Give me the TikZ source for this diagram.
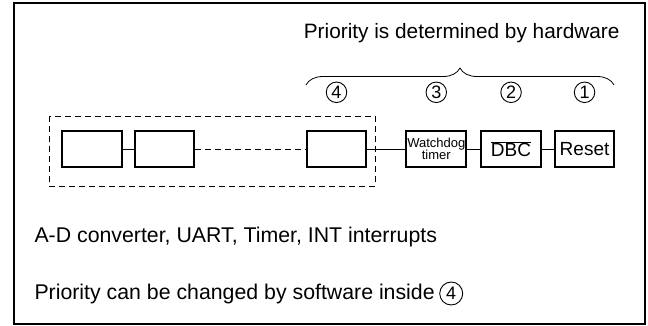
\documentclass[tikz,border=0pt]{standalone}
\usepackage{fontspec}
\setmainfont{Liberation Sans}
\usetikzlibrary{positioning,decorations.pathreplacing}
\begin{document}
\begin{tikzpicture}[x=1pt, y=-1pt, node distance={11pt},
        main/.style = {draw, line width=2pt, minimum width=59.5pt, minimum height=36pt, inner sep=1pt},
        num/.style = {draw, circle, line width=0.9pt, minimum size=20.5pt, inner sep=0pt, font=\fontsize{18}{18}\selectfont},
        big/.style = {font=\fontsize{21.3}{24}\selectfont}]
    \useasboundingbox (0,0) rectangle (648,325);
    \draw[line width=2pt] (14,3) rectangle (645,324);
    % hardware priority
    \node[big, font=\fontsize{20.8}{24}\selectfont, anchor=base east] (hw) at (623,38) {Priority is determined by hardware};
    \node[main] (1) at (92,149) {};
    \node[main] (2) [right=of 1] {};
    \node[main] (3) at (336.5,149) {};
    \node[main, font=\fontsize{13}{13}\selectfont, align=center] (4) [right=38pt of 3] {Watchdog\\[-1pt]timer};
    \node[main, font=\fontsize{19}{20}\selectfont] (5) [right=13pt of 4] {$\overline{\hbox{DBC}}$};
    \node[main, font=\fontsize{19}{20}\selectfont] (6) [right=12pt of 5] {Reset};
    \draw[line width=0.8pt] (1) -- (2);
    \draw[line width=0.8pt, dash pattern=on 6pt off 4pt] (2) -- (3);
    \draw[line width=0.8pt] (3) -- (4);
    \draw[line width=0.8pt] (4) -- (5);
    \draw[line width=0.8pt] (5) -- (6);
    \draw[line width=0.8pt, dash pattern=on 6pt off 4pt] (49,116) rectangle (375,186);
    % priority numbers
    \node[num] (p4) [above=27pt of 3] {4};
    \node[num] (p3) [above=27pt of 4] {3};
    \node[num] (p2) [above=27pt of 5] {2};
    \node[num] (p1) [above=27pt of 6] {1};
    \coordinate (bl) at (306,85);
    \coordinate (br) at (614,85);
    \draw[line width=0.8pt, decorate, decoration={brace, amplitude=17pt}] (bl) -- (br);
    % software priority
    \node[big, anchor=base west] (sw) at (31,242) {A-D converter, UART, Timer, INT interrupts};
    \node[big, anchor=base west] (chg) at (31,299) {Priority can be changed by software inside};
    \node[num, minimum size=23pt] (p5) [right=1pt of chg] {4};
\end{tikzpicture}
\end{document}
